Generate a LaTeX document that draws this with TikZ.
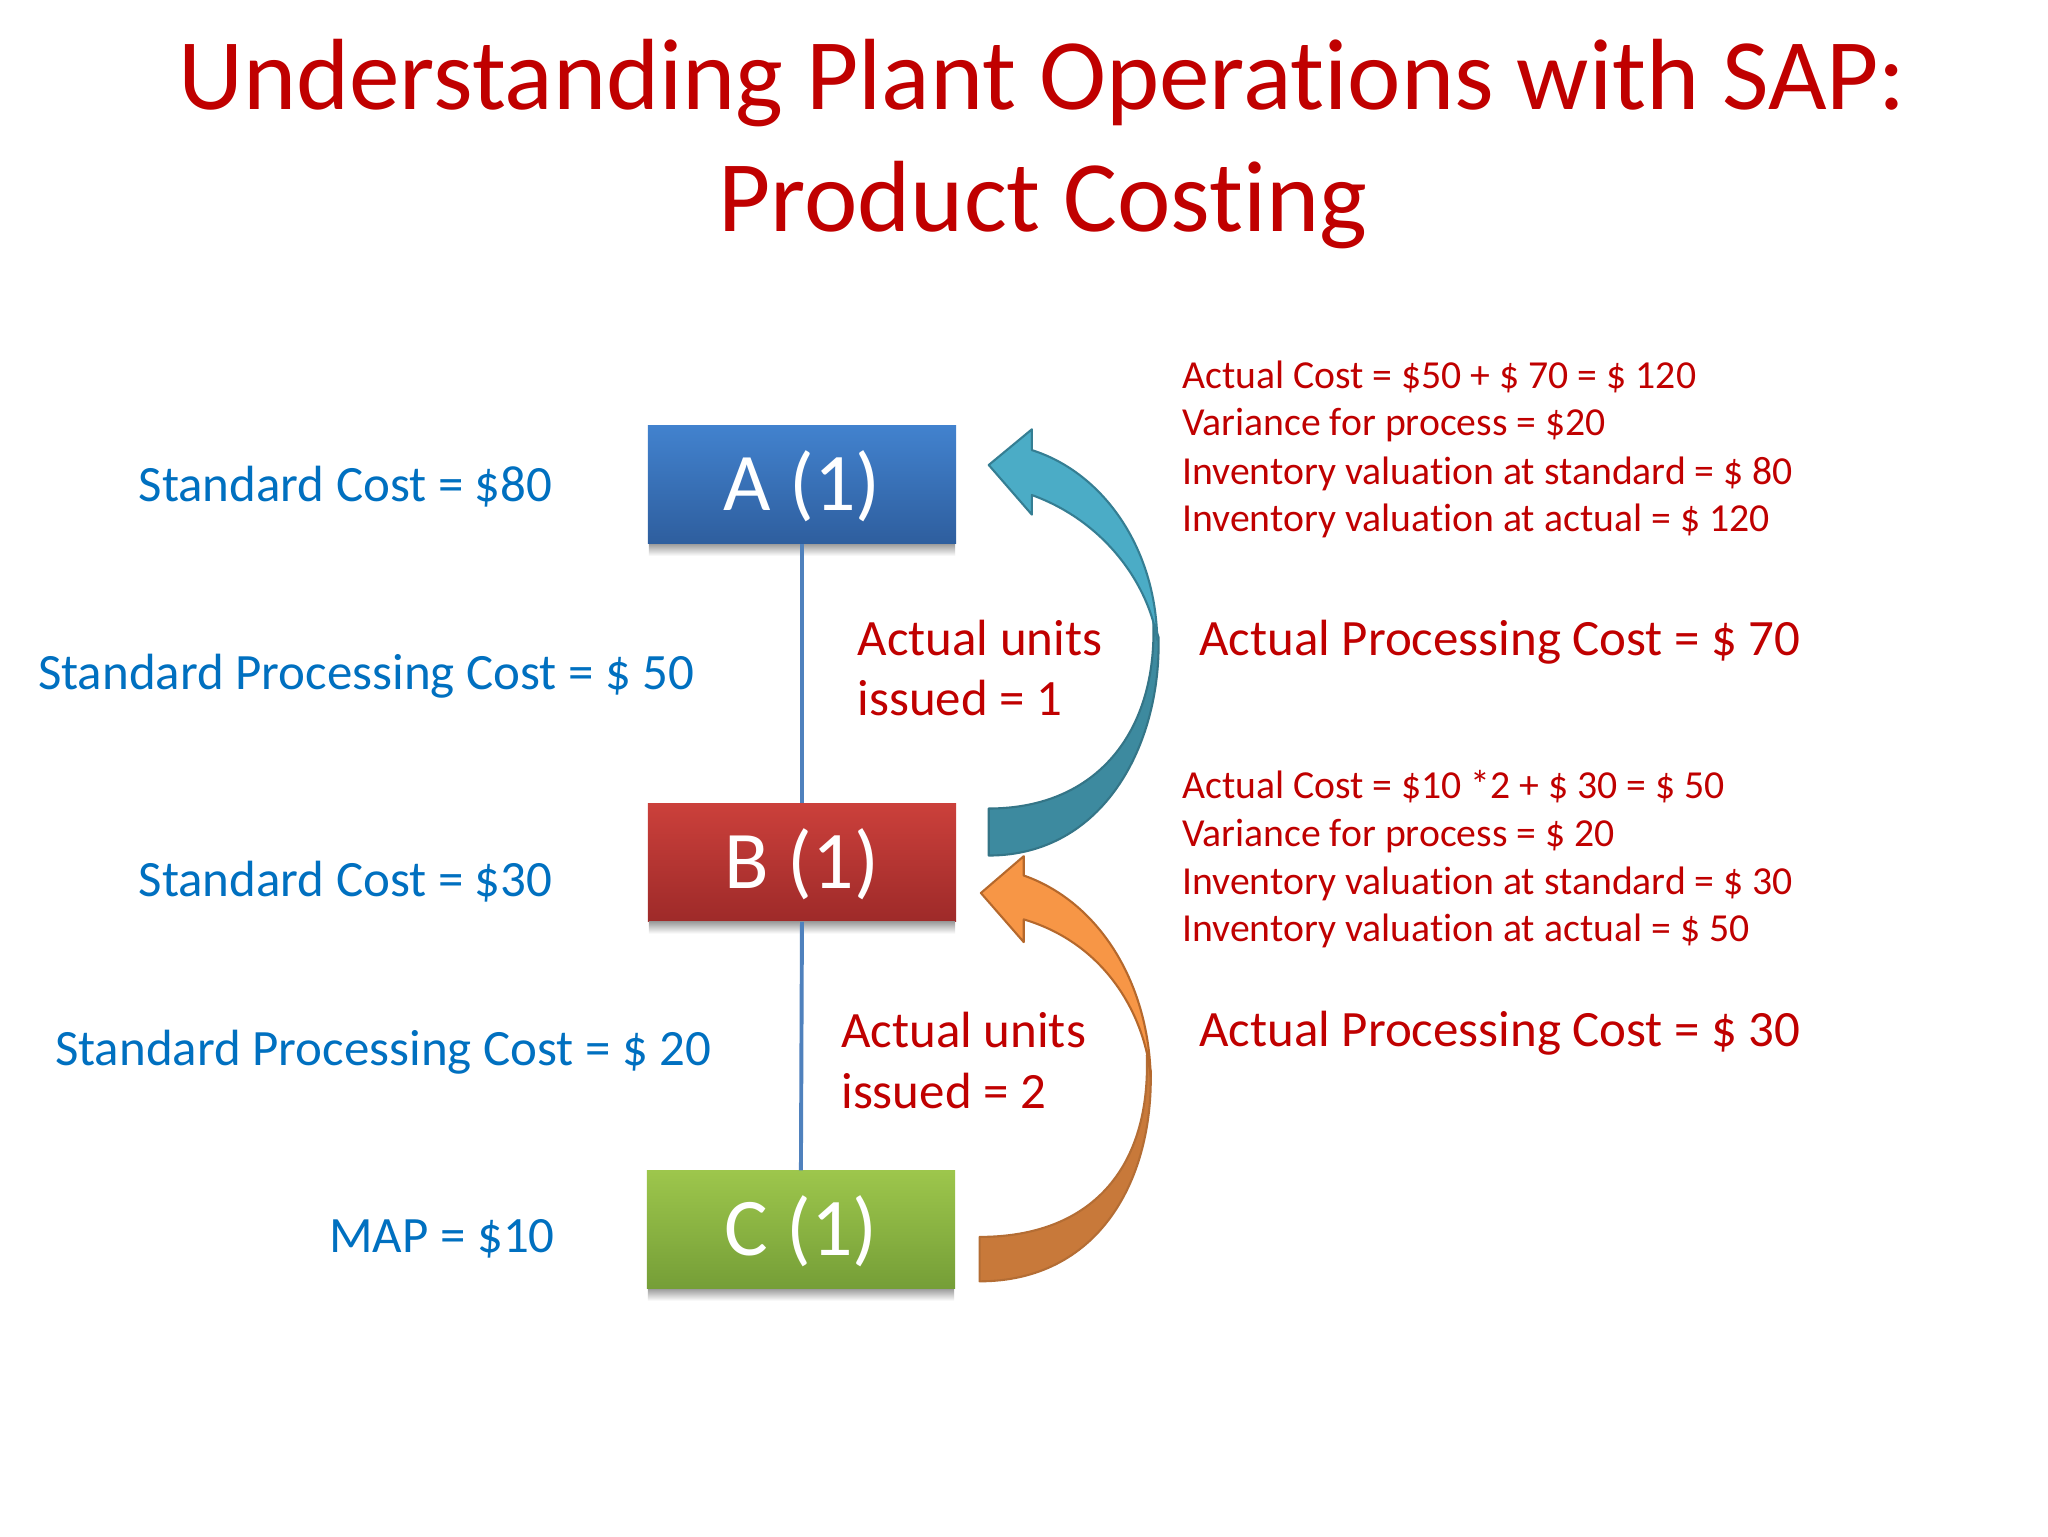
\documentclass[tikz,border=0pt]{standalone}
\usepackage{fontspec}
\setmainfont{Carlito}[Ligatures=NoCommon]
\definecolor{dred}{HTML}{C00000}
\definecolor{lblue}{HTML}{0070C0}
\definecolor{linkblue}{HTML}{4F81BD}
\definecolor{aTop}{HTML}{4282CE}
\definecolor{aBot}{HTML}{2E5E9E}
\definecolor{bTop}{HTML}{CB403B}
\definecolor{bBot}{HTML}{9E2A29}
\definecolor{cTop}{HTML}{9DC64C}
\definecolor{cBot}{HTML}{759E37}
\definecolor{tealL}{HTML}{4BACC6}
\definecolor{tealD}{HTML}{3D8A9F}
\definecolor{tealE}{HTML}{357E93}
\definecolor{orgL}{HTML}{F79646}
\definecolor{orgD}{HTML}{C8793A}
\definecolor{orgE}{HTML}{B5682C}
\begin{document}
\begin{tikzpicture}[x=1bp,y=-1bp,
  titletext/.style={text=dred,font=\fontsize{77.5bp}{93bp}\selectfont,anchor=base,inner sep=0},
  leftlbl/.style={text=lblue,font=\fontsize{39bp}{46bp}\selectfont,anchor=base west,inner sep=0},
  rightlbl/.style={text=dred,font=\fontsize{39bp}{46bp}\selectfont,anchor=base west,inner sep=0},
  smalllbl/.style={text=dred,font=\fontsize{30.4bp}{36bp}\selectfont,anchor=base west,inner sep=0},
  partbox/.style={minimum width=236bp,minimum height=90.5bp,inner sep=0,text=white,
    text height=39.6bp,text depth=0bp,
    font=\fontsize{62.7bp}{70bp}\selectfont},
  boxshadow/.style={top color=black!38,bottom color=white},
  conn/.style={draw=linkblue,line width=3bp},
  arrowedge/.style={line width=1.6bp,line join=round}
]
\useasboundingbox (0,0) rectangle (1568,1176);
\fill[white] (0,0) rectangle (1568,1176);

% title
\node[titletext] (t1) at (798,83.7) {Understanding Plant Operations with SAP:};
\node[titletext] (t2) at (798.5,177.4) {Product Costing};

% boxes
\node[partbox,top color=aTop,bottom color=aBot] (A) at (614,371.2) {A (1)};
\node[partbox,top color=bTop,bottom color=bBot] (B) at (614,660.4) {B (1)};
\node[partbox,top color=cTop,bottom color=cBot] (C) at (613.2,941.5) {C (1)};

% soft shadows under the boxes
\shade[boxshadow] ([xshift=1bp]A.south west) rectangle ([xshift=-1bp,yshift=-9bp]A.south east);
\shade[boxshadow] ([xshift=1bp]B.south west) rectangle ([xshift=-1bp,yshift=-9bp]B.south east);
\shade[boxshadow] ([xshift=1bp]C.south west) rectangle ([xshift=-1bp,yshift=-9bp]C.south east);

\draw[conn] (A.south) -- (B.north);
\draw[conn] (B.south) -- (C.north);

% left labels
\node[leftlbl] (scA) at (106,384) {Standard Cost = \$80};
\node[leftlbl] (spcA) at (29,527.8) {Standard Processing Cost = \$ 50};
\node[leftlbl] (scB) at (106,686.6) {Standard Cost = \$30};
\node[leftlbl] (spcB) at (42,815.5) {Standard Processing Cost = \$ 20};
\node[leftlbl] (map) at (252,959.2) {MAP = \$10};

% middle labels
\node[rightlbl] (au1) at (656.5,501.5) {Actual units};
\node[rightlbl] (is1) at (656.5,547.5) {issued = 1};
\node[rightlbl] (au2) at (644,801.9) {Actual units};
\node[rightlbl] (is2) at (644,848.9) {issued = 2};

% right labels block 1
\node[smalllbl] (r11) at (905,297.3) {Actual Cost = \$50 + \$ 70 = \$ 120};
\node[smalllbl] (r12) at (905,333.8) {Variance for process = \$20};
\node[smalllbl] (r13) at (905,370.6) {Inventory valuation at standard = \$ 80};
\node[smalllbl] (r14) at (905,407.1) {Inventory valuation at actual = \$ 120};
\node[rightlbl] (apc1) at (918,501.5) {Actual Processing Cost = \$ 70};

% right labels block 2
\node[smalllbl] (r21) at (905,611.3) {Actual Cost = \$10 *2 + \$ 30 = \$ 50};
\node[smalllbl] (r22) at (905,647.8) {Variance for process = \$ 20};
\node[smalllbl] (r23) at (905,684.5) {Inventory valuation at standard = \$ 30};
\node[smalllbl] (r24) at (905,721) {Inventory valuation at actual = \$ 50};
\node[rightlbl] (apc2) at (918,801.4) {Actual Processing Cost = \$ 30};

% blue curved arrow (B -> A)
\filldraw[fill=tealD,draw=tealD!85!black,arrowedge]
  (883,476) .. controls (886,560) and (840,619) .. (757,619)
  -- (757,655) .. controls (845,655) and (889,570) .. (887,488) -- cycle;
\filldraw[fill=tealL,draw=tealE,arrowedge]
  (790,344.6) .. controls (845,362) and (885,420) .. (886,490)
  .. controls (880,450) and (848,400) .. (790,379)
  -- (790,394) -- (757,356) -- (790,328.7) -- cycle;

% orange curved arrow (C -> B)
\filldraw[fill=orgD,draw=orgD!90!black,arrowedge]
  (878,808) .. controls (881,895) and (835,947) .. (750,947)
  -- (750,981) .. controls (840,981) and (883,905) .. (881,820) -- cycle;
\filldraw[fill=orgL,draw=orgE,arrowedge]
  (783.8,670.3) .. controls (840,690) and (879,750) .. (881,824)
  .. controls (876,775) and (845,722) .. (783.8,703.9)
  -- (783.8,721.3) -- (751,683.7) -- (783.8,655.5) -- cycle;
\end{tikzpicture}
\end{document}
